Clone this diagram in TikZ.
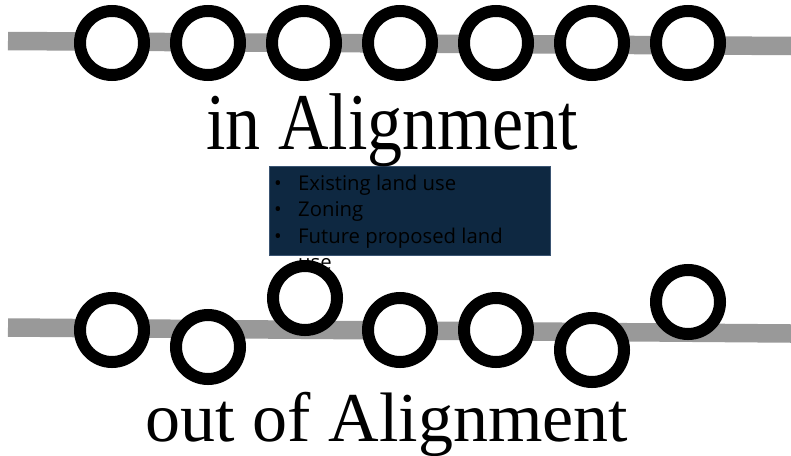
\documentclass[tikz,border=0pt]{standalone}
\usepackage{fontspec}
\setmainfont{Liberation Serif}
\newfontfamily\boxfont{Open Sans}
\definecolor{bandgray}{HTML}{999999}
\definecolor{navy}{HTML}{0E2841}
\definecolor{navyedge}{HTML}{3A5472}
\begin{document}
\begin{tikzpicture}[x=1pt,y=-1pt,
  ring/.style={circle,draw=black,fill=white,line width=12pt,minimum size=64pt,inner sep=0pt},
  band/.style={draw=bandgray,line width=18.5pt},
  bigtext/.style={anchor=base,inner sep=0pt,font=\fontsize{70}{70}\selectfont},
  listline/.style={anchor=base west,inner sep=0pt,font=\boxfont\fontsize{20.3}{24}\selectfont,text=black},
  panel/.style={draw=navyedge,line width=0.6pt,fill=navy,inner sep=0pt}]
\useasboundingbox (0,0) rectangle (791,455);
\fill[white] (0,0) rectangle (791,455);
% bands
\coordinate (t0) at (8,41);
\coordinate (t1) at (791,46);
\coordinate (b0) at (8,327.5);
\coordinate (b1) at (791,333.5);
\draw[band] (t0) -- (t1);
\draw[band] (b0) -- (b1);
% panel with list
\node[panel,minimum width=281pt,minimum height=89pt,anchor=north west] (panel) at (269,166) {};
\node[listline] (l1) at (274,190) {\makebox[24pt][l]{•}Existing land use};
\node[listline] (l2) at (274,216.5) {\makebox[24pt][l]{•}Zoning};
\node[listline] (l3) at (274,243) {\makebox[24pt][l]{•}Future proposed land};
\node[listline] (l4) at (298,269.5) {use};
% titles
\node[bigtext] (tin) at (392,149) {\scalebox{1}[1.15]{in Alignment}};
\node[bigtext] (tout) at (387,441) {out of Alignment};
% top rings
\foreach \i/\x in {1/112,2/208,3/304,4/400,5/496,6/592,7/688}
  \node[ring] (a\i) at (\x,43) {};
% bottom rings
\node[ring] (c1) at (112,330) {};
\node[ring] (c2) at (208,347) {};
\node[ring] (c3) at (305,298) {};
\node[ring] (c4) at (400,330) {};
\node[ring] (c5) at (496,330) {};
\node[ring] (c6) at (592,350) {};
\node[ring] (c7) at (688,302) {};
\end{tikzpicture}
\end{document}
